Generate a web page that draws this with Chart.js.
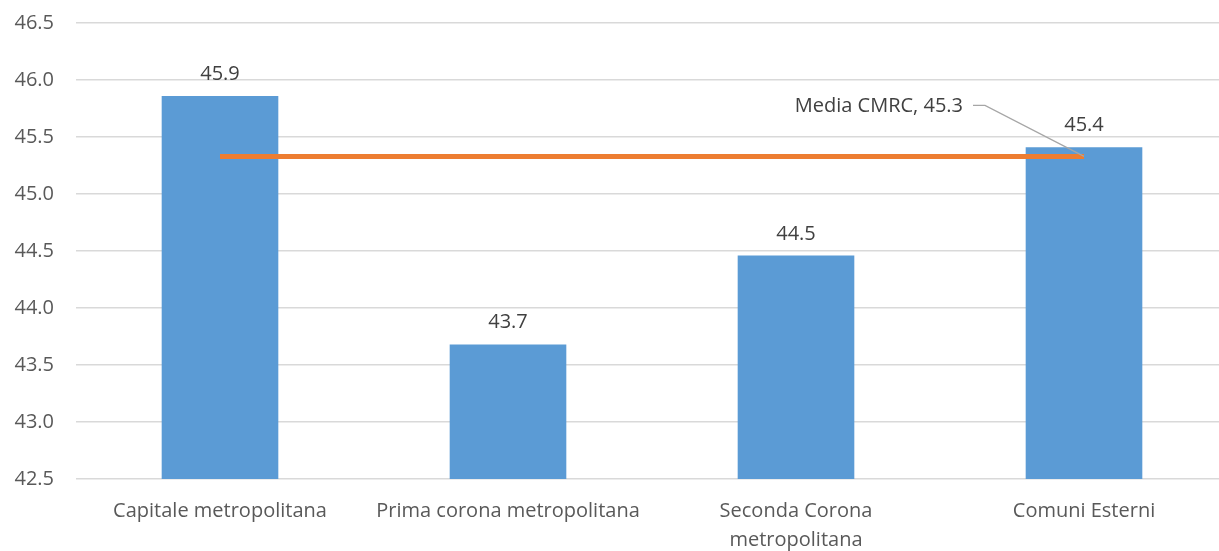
<!DOCTYPE html>
<html>
<head>
<meta charset="utf-8">
<script src="https://cdn.jsdelivr.net/npm/chart.js@4/dist/chart.umd.min.js"></script>
<style>
  html, body { margin: 0; padding: 0; background: #fff; overflow: hidden; }
  #wrap { width: 1230px; height: 551px; }
</style>
</head>
<body>
<div id="wrap"><canvas id="ageChart" width="1230" height="551"></canvas></div>
<script>
// categorie e valori (età media)
const categories = ['Capitale metropolitana', 'Prima corona metropolitana', ['Seconda Corona', 'metropolitana'], 'Comuni Esterni'];
const etaMedia = [45.86, 43.68, 44.46, 45.41];
const mediaCMRC = [45.33, 45.33, 45.33, 45.33];
const mediaLabel = 'Media CMRC, 45.3';
const yTicks = { min: 42.5, max: 46.5, step: 0.5 };

const fontFamily = "'Open Sans', 'Noto Sans', sans-serif";

// valori sopra le barre + etichetta della media
const labelsPlugin = {
  id: 'labelsPlugin',
  afterDatasetsDraw(chart) {
    const c = chart.ctx;
    c.save();
    c.font = '20px ' + fontFamily;
    c.fillStyle = '#404040';
    c.textAlign = 'center';
    c.textBaseline = 'alphabetic';
    chart.getDatasetMeta(1).data.forEach((bar, i) => {
      c.fillText(etaMedia[i].toFixed(1), bar.x, bar.y - 16);
    });

    const pts = chart.getDatasetMeta(0).data;
    const p = pts[pts.length - 1];
    c.strokeStyle = '#a6a6a6';
    c.lineWidth = 1.2;
    c.beginPath();
    c.moveTo(p.x, p.y);
    c.lineTo(p.x - 99, p.y - 51);
    c.lineTo(p.x - 111, p.y - 51);
    c.stroke();
    c.textAlign = 'right';
    c.fillText(mediaLabel, p.x - 121, p.y - 44);
    c.restore();
  }
};

const ctx = document.getElementById('ageChart').getContext('2d');
const ageChart = new Chart(ctx, {
  data: {
    labels: categories,
    datasets: [{
      type: 'line',
      label: 'Media CMRC',
      data: mediaCMRC,
      borderColor: '#ED7D31',
      borderWidth: 5,
      pointRadius: 0,
      fill: false,
      order: 0
    }, {
      type: 'bar',
      label: 'Età media',
      data: etaMedia,
      backgroundColor: '#5B9BD5',
      categoryPercentage: 1,
      barPercentage: 0.405,
      order: 1
    }]
  },
  options: {
    responsive: false,
    animation: false,
    layout: { padding: { top: 23, right: 2, left: 0, bottom: 0 } },
    plugins: {
      legend: { display: false },
      tooltip: { enabled: false }
    },
    scales: {
      x: {
        grid: { display: false },
        border: { display: false },
        ticks: {
          color: '#595959',
          font: { family: fontFamily, size: 20, lineHeight: 1.45 },
          maxRotation: 0,
          autoSkip: false,
          padding: 10
        },
        afterFit(scale) { scale.height = 72; }
      },
      y: {
        min: yTicks.min,
        max: yTicks.max,
        grid: { color: '#d9d9d9', lineWidth: 1.5, drawTicks: false },
        border: { display: false },
        ticks: {
          stepSize: yTicks.step,
          color: '#595959',
          font: { family: fontFamily, size: 20 },
          padding: 22,
          callback: v => v.toFixed(1)
        },
        afterFit(scale) {
          scale.width = 76;
          scale.paddingTop = 0;
          scale.paddingBottom = 0;
        }
      }
    }
  },
  plugins: [labelsPlugin]
});
</script>
</body>
</html>
